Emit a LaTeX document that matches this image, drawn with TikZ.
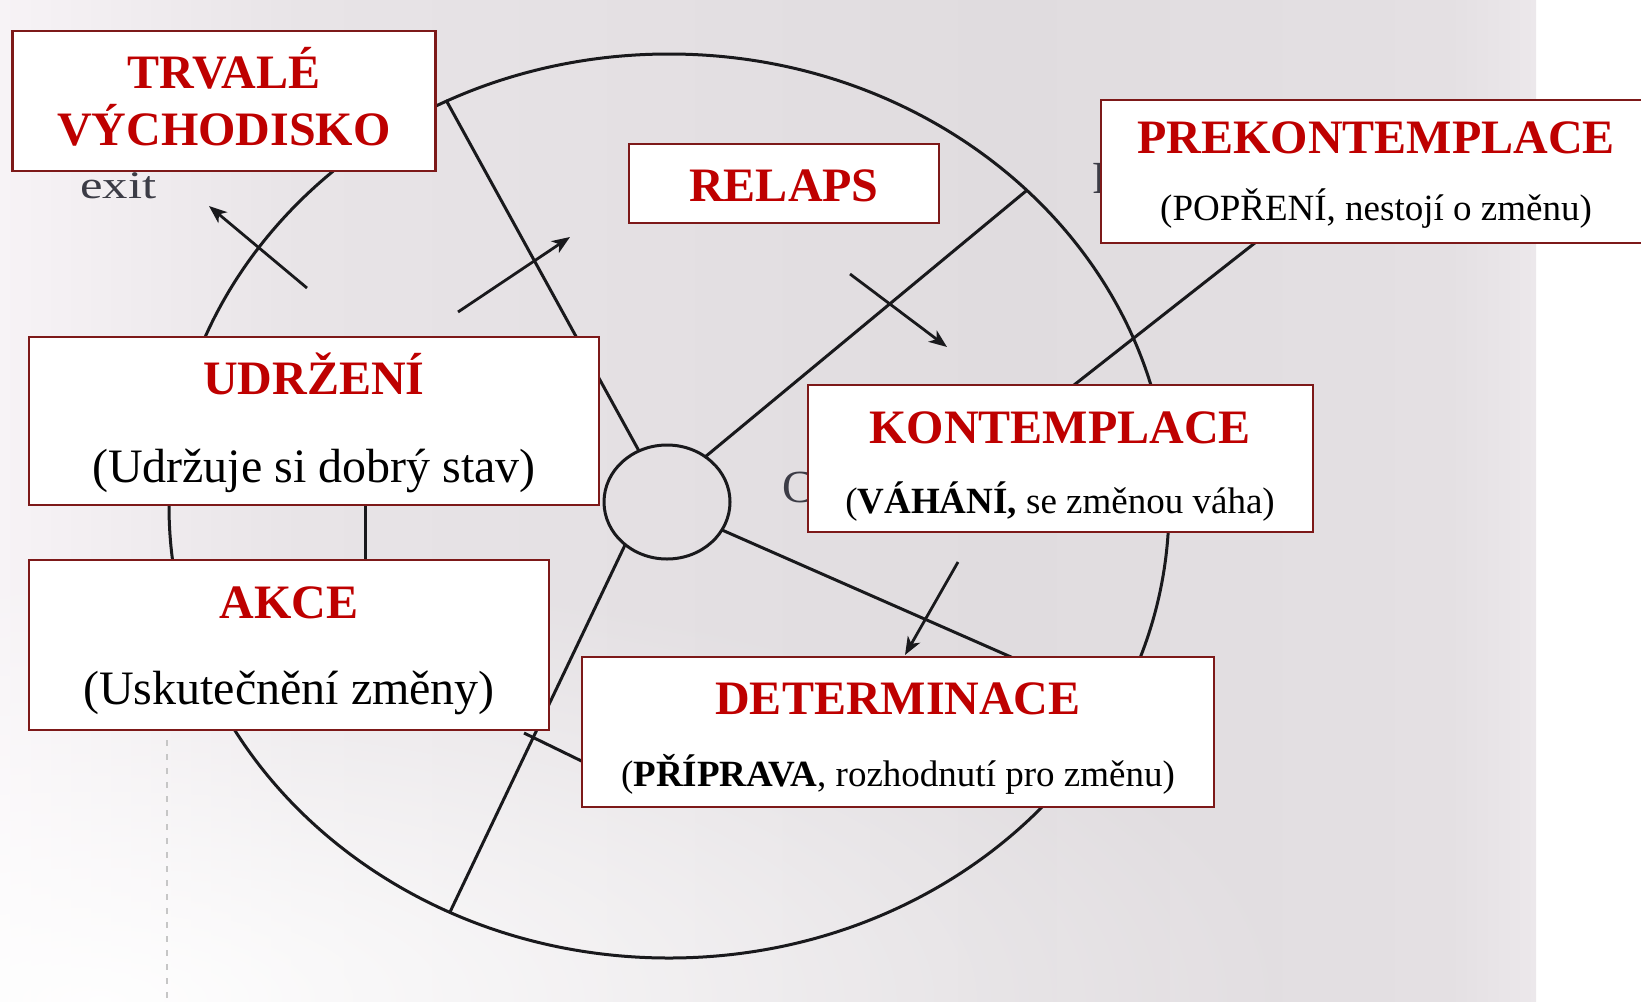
\documentclass[tikz,border=0pt]{standalone}
\usepackage{fontspec}
\usepackage{graphicx}
\setmainfont{Liberation Serif}
\usetikzlibrary{arrows.meta,fadings}
\definecolor{ttlred}{RGB}{190,0,0}
\definecolor{bdr}{RGB}{125,25,25}
\definecolor{ink}{RGB}{25,25,28}
\definecolor{scan}{RGB}{60,60,70}
\newcommand\defgrey[1]{\definecolor{g#1}{RGB}{#1,\the\numexpr#1-4\relax,\the\numexpr#1-1\relax}}
\defgrey{224}\defgrey{228}\defgrey{232}\defgrey{236}\defgrey{247}
\tikzfading[name=blfade, inner color=transparent!0, outer color=transparent!100]
\begin{document}
\begin{tikzpicture}[x=0.5pt,y=-0.5pt,
  box/.style={draw=bdr, line width=1.1pt, fill=white, inner sep=0pt, rectangle},
  ttl/.style={text=ttlred, font=\fontsize{24}{28}\selectfont\bfseries, anchor=base, inner sep=0pt},
  sub/.style={text=black, font=\fontsize{18.5}{22}\selectfont, anchor=base, inner sep=0pt},
  subL/.style={text=black, font=\fontsize{24}{28}\selectfont, anchor=base, inner sep=0pt},
  wheel/.style={draw=ink, line width=1.5pt},
  arr/.style={draw=ink, line width=1.4pt, -{Stealth[length=9pt,width=7pt,inset=2.5pt]}},
  scanT/.style={text=scan, font=\fontsize{23}{26}\selectfont, anchor=base west, inner sep=0pt}]
\useasboundingbox (0,0) rectangle (1641,1001);
\clip (0,0) rectangle (1641,1001);
% background
\fill[white] (0,0) rectangle (1641,1001);
\shade[left color=g247, right color=g232] (0,0) rectangle (301,1001);
\shade[left color=g232, right color=g224] (300,0) rectangle (1001,1001);
\shade[left color=g224, right color=g228] (1000,0) rectangle (1451,1001);
\shade[left color=g228, right color=g236] (1450,0) rectangle (1536,1001);
\fill[white, path fading=blfade, fill opacity=0.95] (-1100,560) rectangle (1300,1440);
% faint scan margin
\draw[gray!45, line width=0.8pt, dash pattern=on 3pt off 4pt] (167,740) -- (167,1001);
% wheel
\draw[wheel] (669,506) ellipse [x radius=250pt, y radius=226pt];
\draw[wheel] (667,502) ellipse [x radius=31.5pt, y radius=28.5pt];
\draw[wheel] (639,451) -- (446,100);
\draw[wheel] (705,457) -- (1026,191);
\draw[wheel] (722,530) -- (1118,704);
\draw[wheel] (625,545) -- (450,912);
\draw[wheel] (1060,396) -- (1265,235);
\draw[wheel] (365,500) -- (365,566);
\draw[wheel] (524,733) -- (600,770);
% arrows
\draw[arr] (307,288) -- (209,206);
\draw[arr] (458,312) -- (570,237);
\draw[arr] (850,274) -- (947,347);
\draw[arr] (958,562) -- (905,655);
% scanned letters partly hidden
\node[scanT] (cC) at (782,502) {C};
\node[scanT] (cP) at (1092,193) {P};
\node[text=scan, font=\fontsize{19.5}{22}\selectfont, anchor=base west, inner sep=0pt] (exit) at (80,198) {\scalebox{1.3}[1]{exit}};
% boxes
\node[box, minimum width=211.5pt, minimum height=70pt] (bTrv) at (224,101) {};
\node[box, minimum width=155pt, minimum height=39.5pt] (bRel) at (784,183.5) {};
\node[box, minimum width=274.5pt, minimum height=71.5pt] (bPre) at (1375.5,171.5) {};
\node[box, minimum width=285pt, minimum height=84pt] (bUdr) at (314,421) {};
\node[box, minimum width=260pt, minimum height=85pt] (bAkc) at (289,645) {};
\node[box, minimum width=252.5pt, minimum height=73.5pt] (bKon) at (1060.5,458.5) {};
\node[box, minimum width=316pt, minimum height=75pt] (bDet) at (898,732) {};
% texts
\node[ttl] (tTrv1) at (224,88) {TRVALÉ};
\node[ttl] (tTrv2) at (224,145) {VÝCHODISKO};
\node[ttl] (tRel) at (784,201) {RELAPS};
\node[ttl] (tPre) at (1376,153) {PREKONTEMPLACE};
\node[sub] (sPre) at (1376,220) {(POPŘENÍ, nestojí o změnu)};
\node[ttl] (tUdr) at (314,394) {UDRŽENÍ};
\node[subL] (sUdr) at (314,482) {(Udržuje si dobrý stav)};
\node[ttl] (tAkc) at (289,618) {AKCE};
\node[subL] (sAkc) at (289,704) {(Uskutečnění změny)};
\node[ttl] (tKon) at (1060,443) {KONTEMPLACE};
\node[sub] (sKon) at (1060,513) {(\textbf{VÁHÁNÍ,} se změnou váha)};
\node[ttl] (tDet) at (898,714) {DETERMINACE};
\node[sub] (sDet) at (898,786) {(\textbf{PŘÍPRAVA}, rozhodnutí pro změnu)};
\end{tikzpicture}
\end{document}
